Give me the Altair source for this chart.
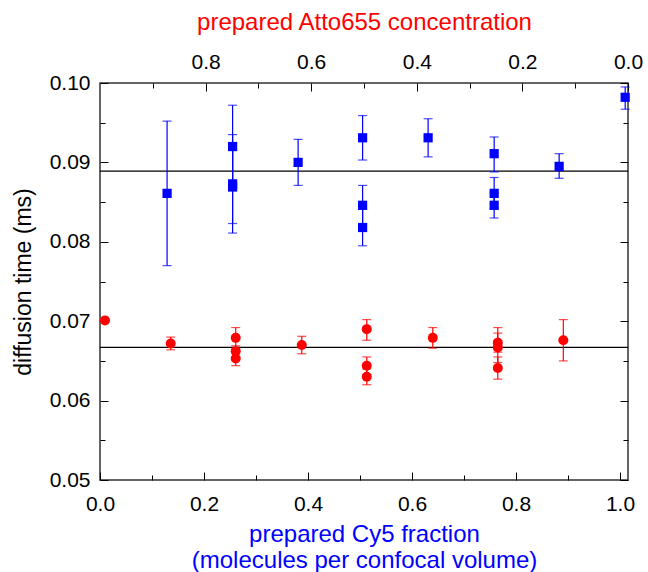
import altair as alt
import pandas as pd

# ---- data ----
cy5_x  = [0.129, 0.255, 0.255, 0.255, 0.381, 0.505, 0.505, 0.505, 0.631, 0.758, 0.758, 0.758, 0.883, 1.010]
cy5_y  = [0.0861, 0.0920, 0.0873, 0.0869, 0.0900, 0.0931, 0.0846, 0.0818, 0.0931, 0.0911, 0.0861, 0.0846, 0.0895, 0.0982]
cy5_lo = [0.0770, 0.0868, 0.0811, 0.0823, 0.0871, 0.0903, 0.0821, 0.0795, 0.0907, 0.0888, 0.0841, 0.0830, 0.0880, 0.0967]
cy5_hi = [0.0952, 0.0972, 0.0935, 0.0915, 0.0929, 0.0959, 0.0871, 0.0841, 0.0955, 0.0932, 0.0881, 0.0862, 0.0911, 0.0995]

atto_x  = [0.0096, 0.136, 0.261, 0.261, 0.261, 0.388, 0.513, 0.513, 0.513, 0.640, 0.765, 0.765, 0.765, 0.891]
atto_y  = [0.0701, 0.0672, 0.0679, 0.0662, 0.0653, 0.0670, 0.0690, 0.0644, 0.0630, 0.0679, 0.0673, 0.0667, 0.0641, 0.0676]
atto_lo = [0.0701, 0.0664, 0.0666, 0.0655, 0.0644, 0.0659, 0.0676, 0.0633, 0.0620, 0.0666, 0.0661, 0.0648, 0.0627, 0.0650]
atto_hi = [0.0701, 0.0680, 0.0692, 0.0669, 0.0662, 0.0681, 0.0702, 0.0655, 0.0640, 0.0692, 0.0685, 0.0692, 0.0655, 0.0702]

mean_levels = [0.0889, 0.0667]

x_major = [0.0, 0.2, 0.4, 0.6, 0.8, 1.0]
x_minor = [0.1, 0.3, 0.5, 0.7, 0.9]
top_major = [0.0, 0.2, 0.4, 0.6, 0.8]
top_minor = [0.1, 0.3, 0.5, 0.7, 0.9]
y_major = [0.05, 0.06, 0.07, 0.08, 0.09, 0.10]
y_minor = [0.055, 0.065, 0.075, 0.085, 0.095]

BLUE = "#0000ff"
RED = "#ff0000"
FONT = "Liberation Sans"
XDOM = [0.0, 1.0154]
YDOM = [0.05, 0.10]

cy5 = pd.DataFrame({"x": cy5_x, "y": cy5_y, "lo": cy5_lo, "hi": cy5_hi})
atto = pd.DataFrame({"x": atto_x, "y": atto_y, "lo": atto_lo, "hi": atto_hi})
means = pd.DataFrame({"y": mean_levels})
dummy = pd.DataFrame({"x": [0.5], "y": [0.075]})


def xsc():
    return alt.Scale(domain=XDOM, nice=False, zero=False)


def ysc():
    return alt.Scale(domain=YDOM, nice=False, zero=False)


def xq(field="x", axis=None):
    return alt.X(f"{field}:Q", scale=xsc(), axis=axis)


def yq(field="y", axis=None):
    return alt.Y(f"{field}:Q", scale=ysc(), axis=axis)


common_label = dict(labelFont=FONT, labelFontSize=21, labelColor="black",
                    tickColor="black", tickWidth=1, domain=False, grid=False,
                    labelFlush=False, labelOverlap=False)
title_common = dict(titleFont=FONT, titleFontSize=24, titleFontWeight="normal")

bottom_major = alt.Axis(orient="bottom", values=x_major, format=".1f", tickSize=8, offset=-8,
                        labelPadding=13, title=["prepared Cy5 fraction", "(molecules per confocal volume)"],
                        titleColor=BLUE, titlePadding=8, titleLineHeight=26, **common_label, **title_common)
bottom_minor = alt.Axis(orient="bottom", values=x_minor, tickSize=5, offset=-5, labels=False,
                        title=None, domain=False, grid=False, tickColor="black")
left_major = alt.Axis(orient="left", values=y_major, format=".2f", tickSize=8, offset=-8,
                      labelPadding=10, title="diffusion time (ms)", titleColor="black",
                      titlePadding=14, labelFont=FONT, labelFontSize=21, labelColor="black",
                      tickColor="black", tickWidth=1, domain=False, grid=False,
                      labelFlush=False, labelOverlap=False,
                      titleFont=FONT, titleFontSize=23, titleFontWeight="normal")
left_minor = alt.Axis(orient="left", values=y_minor, tickSize=5, offset=-5, labels=False,
                      title=None, domain=False, grid=False, tickColor="black")
right_major = alt.Axis(orient="right", values=y_major, tickSize=8, offset=-8, labels=False,
                       title=None, domain=False, grid=False, tickColor="black")
right_minor = alt.Axis(orient="right", values=y_minor, tickSize=5, offset=-5, labels=False,
                       title=None, domain=False, grid=False, tickColor="black")
top_major_ax = alt.Axis(orient="top", values=top_major, format=".1f", tickSize=8, offset=-8,
                        labelPadding=11, title="prepared Atto655 concentration", titleColor=RED,
                        titlePadding=17, **common_label, **title_common)
top_minor_ax = alt.Axis(orient="top", values=top_minor, tickSize=5, offset=-5, labels=False,
                        title=None, domain=False, grid=False, tickColor="black")

layers = []

# mean lines (carry the main bottom/left axes)
layers.append(alt.Chart(means).mark_rule(color="black", strokeWidth=1.2).encode(
    y=yq("y", left_major)))
layers.append(alt.Chart(dummy).mark_point(opacity=0).encode(
    x=xq("x", bottom_major), y=yq("y")))

for df, col in [(cy5, BLUE), (atto, RED)]:
    layers.append(alt.Chart(df).mark_rule(color=col, strokeWidth=1.2).encode(
        x=xq(), y=yq("lo"), y2="hi"))
    for f in ["lo", "hi"]:
        layers.append(alt.Chart(df).mark_tick(color=col, orient="horizontal", size=9, thickness=1.2).encode(
            x=xq(), y=yq(f)))

layers.append(alt.Chart(cy5).mark_point(shape="square", filled=True, size=85, color=BLUE, opacity=1).encode(
    x=xq(), y=yq()))
layers.append(alt.Chart(atto).mark_circle(size=100, color=RED, opacity=1).encode(
    x=xq(), y=yq()))

# extra axis layers
layers.append(alt.Chart(dummy).mark_point(opacity=0).encode(x=xq("x", bottom_minor), y=yq("y", left_minor)))
layers.append(alt.Chart(dummy).mark_point(opacity=0).encode(x=xq("x"), y=yq("y", right_major)))
layers.append(alt.Chart(dummy).mark_point(opacity=0).encode(x=xq("x"), y=yq("y", right_minor)))
layers.append(alt.Chart(dummy).mark_point(opacity=0).encode(
    x=alt.X("x:Q", scale=alt.Scale(domain=[0, 1], reverse=True, nice=False, zero=False), axis=top_major_ax),
    y=yq("y")))
layers.append(alt.Chart(dummy).mark_point(opacity=0).encode(
    x=alt.X("x:Q", scale=alt.Scale(domain=[0, 1], reverse=True, nice=False, zero=False), axis=top_minor_ax),
    y=yq("y")))

chart = alt.layer(*layers).resolve_scale(x="independent", y="independent").properties(
    width=528, height=397,
    autosize=alt.AutoSizeParams(type="none"),
    padding={"left": 100, "top": 83, "right": 20, "bottom": 92},
).configure_view(stroke="#333333", strokeWidth=1.5)

chart.save("out.html", embed_options={"renderer": "svg", "actions": False})
